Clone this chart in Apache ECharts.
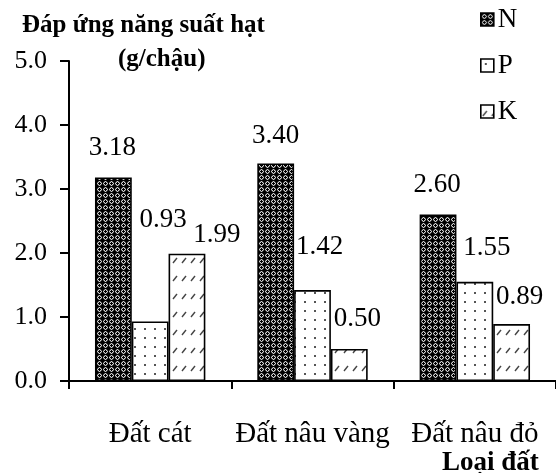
<!DOCTYPE html>
<html>
<head>
<meta charset="utf-8">
<script src="https://cdn.jsdelivr.net/npm/echarts@6/dist/echarts.min.js"></script>
<style>
  html, body { margin: 0; padding: 0; background: #fff; }
  #chart { width: 556px; height: 473px; }
</style>
</head>
<body>
<div id="chart"></div>
<script>
// Soil types on the x axis
const soilTypes = ['Đất cát', 'Đất nâu vàng', 'Đất nâu đỏ'];
// Yield response (g/pot) for each nutrient
const seriesNames = ['N', 'P', 'K'];
const valuesN = [3.18, 3.40, 2.60];
const valuesP = [0.93, 1.42, 1.55];
const valuesK = [1.99, 0.50, 0.89];
const yTicks = [0, 1, 2, 3, 4, 5];

const FONT = '"Liberation Serif", "Times New Roman", serif';

// Hand-placed data label offsets (x, y) relative to each bar top
const labelOffsets = {
  N: [[-1, -16], [0, -14], [-1, -16]],
  P: [[13, -88], [7, -30], [12, -20]],
  K: [[30, -5], [8, -17], [8, -14]]
};

function makePattern(w, h, draw) {
  const c = document.createElement('canvas');
  c.width = w; c.height = h;
  const g = c.getContext('2d');
  draw(g);
  return { image: c, repeat: 'repeat' };
}

// Dark lattice fill
const fillN = makePattern(6, 6, g => {
  g.fillStyle = '#000';
  g.fillRect(0, 0, 6, 6);
  g.fillStyle = '#cfcfcf';
  [[3,1],[2,2],[4,2],[1,3],[5,3],[2,4],[4,4],[3,5]].forEach(p => g.fillRect(p[0], p[1], 1, 1));
  g.fillStyle = '#555';
  [[2,1],[4,1],[1,2],[5,2],[1,4],[5,4],[2,5],[4,5]].forEach(p => g.fillRect(p[0], p[1], 1, 1));
});

// Sparse dots
const fillP = makePattern(10, 9, g => {
  g.fillStyle = '#fff';
  g.fillRect(0, 0, 10, 9);
  g.fillStyle = '#555';
  g.fillRect(4, 4, 2, 2);
});

// Short diagonal dashes in rows
const fillK = makePattern(9, 18, g => {
  g.fillStyle = '#fff';
  g.fillRect(0, 0, 9, 18);
  g.strokeStyle = '#444';
  g.lineWidth = 1.4;
  g.beginPath();
  g.moveTo(2, 11);
  g.lineTo(6, 6);
  g.stroke();
});

const fills = { N: fillN, P: fillP, K: fillK };
const valueMap = { N: valuesN, P: valuesP, K: valuesK };

const chart = echarts.init(document.getElementById('chart'), null, { renderer: 'canvas' });

const series = seriesNames.map(name => ({
  name: name,
  type: 'bar',
  barGap: '0%',
  barCategoryGap: '32%',
  itemStyle: {
    color: fills[name],
    borderColor: '#000',
    borderWidth: 1.6
  },
  label: {
    show: true,
    position: 'top',
    distance: 0,
    fontFamily: FONT,
    fontSize: 27,
    lineHeight: 27,
    color: '#000',
    formatter: p => p.value.toFixed(2)
  },
  data: valueMap[name].map((v, i) => ({
    value: v,
    label: { offset: labelOffsets[name][i] }
  }))
}));

const boldText = { fontFamily: FONT, fontSize: 25, fontWeight: 'bold', color: '#000' };

chart.setOption({
  animation: false,
  backgroundColor: '#fff',
  title: [
    { text: 'Đáp ứng năng suất hạt', left: 17, top: 8, textStyle: boldText },
    { text: '(g/chậu)', left: 113, top: 42, textStyle: boldText },
    { text: 'Loại đất', left: 437, top: 445, textStyle: Object.assign({}, boldText, { fontSize: 27 }) }
  ],
  legend: {
    orient: 'vertical',
    left: 475,
    top: 1,
    itemWidth: 13,
    itemHeight: 13,
    itemGap: 19,
    itemStyle: { borderColor: '#000', borderWidth: 1.6 },
    icon: 'rect',
    data: seriesNames,
    textStyle: { fontFamily: FONT, fontSize: 27, lineHeight: 26, color: '#000', padding: [0, 0, 0, -1] }
  },
  grid: { left: 69, top: 61, width: 492, height: 320 },
  xAxis: {
    type: 'category',
    data: soilTypes,
    axisLine: { lineStyle: { color: '#000', width: 2 } },
    axisTick: { show: true, length: 8, lineStyle: { color: '#000', width: 2 } },
    axisLabel: { interval: 0, hideOverlap: false, fontFamily: FONT, fontSize: 29, color: '#000', margin: 39 }
  },
  yAxis: {
    type: 'value',
    min: yTicks[0],
    max: yTicks[yTicks.length - 1],
    interval: 1,
    axisLine: { show: true, lineStyle: { color: '#000', width: 2 } },
    axisTick: { show: true, length: 9, lineStyle: { color: '#000', width: 2 } },
    axisLabel: { fontFamily: FONT, fontSize: 26, color: '#000', margin: 22, formatter: v => v.toFixed(1) },
    splitLine: { show: false }
  },
  series: series
});
</script>
</body>
</html>
